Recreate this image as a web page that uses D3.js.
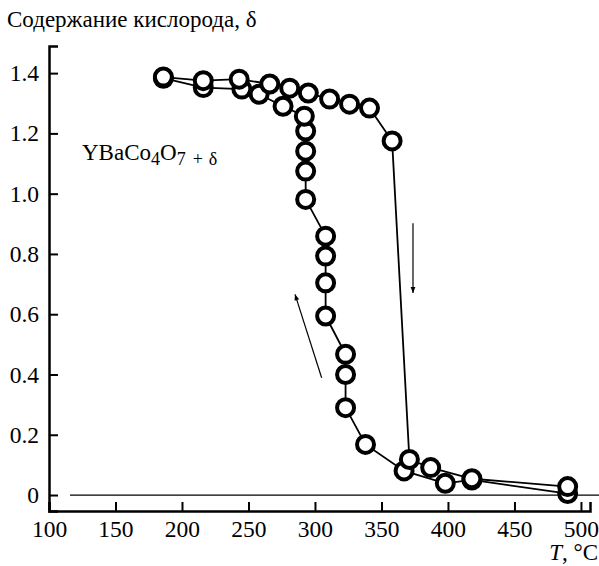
<!DOCTYPE html>
<html><head><meta charset="utf-8">
<script src="https://cdn.jsdelivr.net/npm/d3@7"></script>
<style>
body{margin:0;background:#fff;}
svg text{font-family:"Liberation Serif","Times New Roman",serif;fill:#000;}
</style></head>
<body><svg id="c" width="599" height="566"></svg>
<script>
const xTicks = [100,150,200,250,300,350,400,450,500];
const yTicks = [0,0.2,0.4,0.6,0.8,1.0,1.2,1.4];
const yTickLabels = ["0","0.2","0.4","0.6","0.8","1.0","1.2","1.4"];
// heating branch
const heatT = [186,216,243,266,281,295,311,326,341,358,371,387,418,490];
const heatD = [1.387,1.375,1.38,1.364,1.35,1.334,1.314,1.297,1.284,1.175,0.118,0.091,0.054,0.028];
// cooling branch
const coolT = [490,418,398,367,338,323,323,323,308,308,308,308,293,293,293,293,292,276,258,245,216,186];
const coolD = [0.005,0.05,0.039,0.08,0.168,0.29,0.40,0.467,0.594,0.704,0.793,0.859,0.981,1.075,1.141,1.208,1.257,1.29,1.33,1.347,1.352,1.383];
// arrows [T0,d0,T1,d1]
const arrowUp = [305,0.389,285,0.666];
const arrowDown = [373.7,0.902,373.7,0.67];

const svg = d3.select("#c");
const x = d3.scaleLinear().domain([100,506.8]).range([49,590]);
const y = d3.scaleLinear().domain([-0.053,1.49]).range([511,46]);

svg.append("defs").append("marker").attr("id","ah").attr("viewBox","0 0 10 10")
  .attr("refX",10).attr("refY",5).attr("markerWidth",15).attr("markerHeight",6)
  .attr("markerUnits","userSpaceOnUse").attr("orient","auto")
  .append("path").attr("d","M0,1 L10,5 L0,9 Z").attr("fill","#000");

// zero line
svg.append("line").attr("x1",70).attr("x2",599).attr("y1",y(0)).attr("y2",y(0))
  .attr("stroke","#000").attr("stroke-width",1.2);

// axes
const xAxis = svg.append("g").attr("transform",`translate(0,${y.range()[0]})`)
  .call(d3.axisBottom(x).tickValues(xTicks).tickSize(-9).tickPadding(9).tickFormat(d3.format("d")));
const yAxis = svg.append("g").attr("transform",`translate(${x.range()[0]},0)`)
  .call(d3.axisLeft(y).tickValues(yTicks).tickSize(-9).tickPadding(10).tickFormat((d,i)=>yTickLabels[i]));
[xAxis,yAxis].forEach(g=>{
  g.select(".domain").attr("stroke","#000").attr("stroke-width",2.5);
  g.selectAll(".tick line").attr("stroke","#000").attr("stroke-width",2);
  g.selectAll(".tick text").attr("font-family","Liberation Serif, serif").attr("font-size",23.5).attr("fill","#000");
});

const line = d3.line().x(d=>x(d[0])).y(d=>y(d[1]));
const heat = heatT.map((t,i)=>[t,heatD[i]]);
const cool = coolT.map((t,i)=>[t,coolD[i]]);
[heat,cool].forEach(s=>{
  svg.append("path").attr("d",line(s)).attr("fill","none").attr("stroke","#000").attr("stroke-width",1.8);
});
[cool,heat].forEach(s=>{
  svg.append("g").selectAll("circle").data(s).join("circle")
    .attr("cx",d=>x(d[0])).attr("cy",d=>y(d[1])).attr("r",8.5)
    .attr("fill","#fff").attr("stroke","#000").attr("stroke-width",4);
});

// arrows
[arrowUp,arrowDown].forEach(a=>{
  svg.append("line").attr("x1",x(a[0])).attr("y1",y(a[1])).attr("x2",x(a[2])).attr("y2",y(a[3]))
    .attr("stroke","#000").attr("stroke-width",1.2).attr("marker-end","url(#ah)");
});

// texts
svg.append("text").attr("x",7).attr("y",27).attr("font-size",23).text("Содержание кислорода, δ");
const f = svg.append("text").attr("x",82).attr("y",160).attr("font-size",23);
f.append("tspan").text("YBaCo");
f.append("tspan").attr("font-size",18).attr("dy",5).text("4");
f.append("tspan").attr("dy",-5).text("O");
f.append("tspan").attr("font-size",18).attr("dy",5).text("7");
f.append("tspan").attr("font-size",18).attr("dx",7).text("+");
f.append("tspan").attr("font-size",18).attr("dx",6).text("δ");
const tl = svg.append("text").attr("x",598).attr("y",560).attr("font-size",23).attr("text-anchor","end");
tl.append("tspan").attr("font-style","italic").text("T");
tl.append("tspan").text(", °C");
</script></body></html>
